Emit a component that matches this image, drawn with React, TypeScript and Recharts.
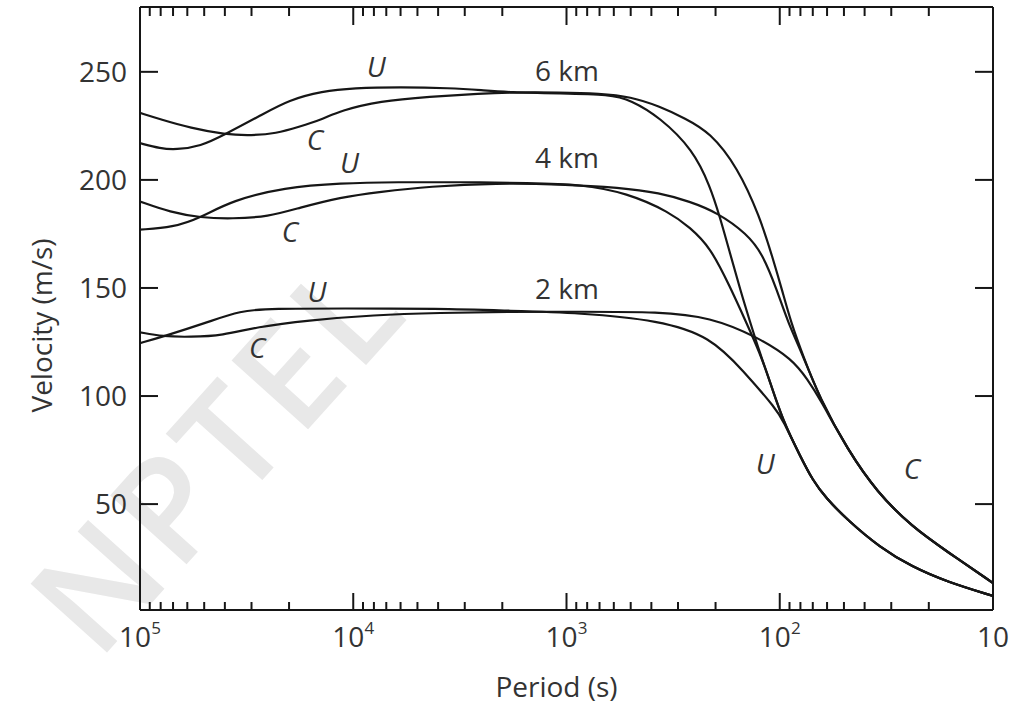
import { LineChart, Line, XAxis, YAxis, ReferenceDot } from "recharts";

const FONT = "'Open Sans', 'Noto Sans', sans-serif";
const INK = "#161616";
const TEXT = "#333333";

// tick values
const majorPeriods = [100000, 10000, 1000, 100, 10];
const minorPeriods = [
  90000, 80000, 70000, 60000, 50000, 40000, 30000, 20000,
  9000, 8000, 7000, 6000, 5000, 4000, 3000, 2000,
  900, 800, 700, 600, 500, 400, 300, 200,
  90, 80, 70, 60, 50, 40, 30, 20,
];
const periodTicks = [...majorPeriods, ...minorPeriods];
const velocityTicks = [50, 100, 150, 200, 250];

// [period (s), velocity (m/s)]
const groupTail = [
  [80, 72], [70, 61], [61, 53], [48, 42.5], [34, 30], [24, 21], [16.4, 14], [10, 7.5],
];
const phaseTail = [
  [48, 75], [35, 55.5], [24, 39.5], [16.4, 28], [10, 13.5],
];

const u6 = [
  [100000, 217], [80000, 214.5], [68000, 214], [52000, 215.5], [40000, 221],
  [27000, 230], [20000, 237], [14000, 241], [10000, 242.5], [6000, 243],
  [3500, 242.5], [2500, 241.5], [1850, 240.5], [1070, 240], [625, 239.5],
  [500, 237], [365, 229], [255, 214], [212, 197], [191, 183], [171, 166],
  [153, 149], [138, 134.5], [124, 120], [111, 106.5], [97, 89],
];
const c6 = [
  [100000, 231], [80000, 228], [58000, 224], [40000, 221], [30000, 220.5],
  [23000, 221.5], [18000, 224.5], [14000, 228], [11500, 232], [7500, 236.5],
  [4400, 238.5], [2500, 240], [1850, 240.5], [1070, 240.5], [700, 240],
  [500, 238.5], [365, 234], [278, 228.5], [212, 222], [158, 206], [124, 183],
  [108, 164], [97.5, 149], [88.5, 134], [78, 119], [65, 99],
];
const u4 = [
  [100000, 177], [70000, 178], [52000, 182.5], [37000, 190.5], [21000, 196.5],
  [11500, 198.5], [6200, 199], [3160, 199], [1480, 198.5], [865, 198],
  [520, 194], [327, 185], [264, 178], [212, 169], [171, 150.5], [145, 135],
  [124, 120], [111, 106.5], [97, 89],
];
const c4 = [
  [100000, 190], [72000, 185], [52000, 182.5], [37000, 182], [25000, 183],
  [18000, 187], [11500, 192], [7500, 194.5], [4400, 197], [2120, 198.5],
  [1070, 198], [561, 196.5], [365, 194], [264, 190], [197, 185], [142, 175],
  [120, 165.5], [103, 149], [91.5, 134], [78, 119], [65, 99],
];
const u2 = [
  [100000, 124.5], [78000, 127.5], [48500, 134], [34000, 139.5], [23800, 140.5],
  [11500, 140.5], [3920, 140.5], [1900, 139.5], [865, 138.5], [365, 135],
  [212, 127.5], [149, 112], [103, 93.5], [97, 89],
];
const c2 = [
  [100000, 129.5], [78000, 127.5], [58000, 127.3], [41000, 128], [28300, 132],
  [16500, 135], [8000, 137.5], [3920, 138.5], [1900, 139], [865, 139],
  [365, 139], [212, 136.5], [128, 127.5], [87, 117], [74, 107.5], [65, 99],
];

const curves = [
  { name: "u6", points: [...u6, ...groupTail] },
  { name: "c6", points: [...c6, ...phaseTail] },
  { name: "u4", points: [...u4, ...groupTail] },
  { name: "c4", points: [...c4, ...phaseTail] },
  { name: "u2", points: [...u2, ...groupTail] },
  { name: "c2", points: [...c2, ...phaseTail] },
];

const curveLabels = [
  { text: "U", period: 7800, v: 252.7, italic: true },
  { text: "6 km", period: 995, v: 251, italic: false },
  { text: "C", period: 15100, v: 219, italic: true },
  { text: "U", period: 10400, v: 208.3, italic: true },
  { text: "4 km", period: 995, v: 210.6, italic: false },
  { text: "C", period: 19800, v: 176.4, italic: true },
  { text: "U", period: 14800, v: 148.6, italic: true },
  { text: "2 km", period: 995, v: 150, italic: false },
  { text: "C", period: 28200, v: 122.7, italic: true },
  { text: "U", period: 117, v: 69, italic: true },
  { text: "C", period: 24, v: 66.7, italic: true },
];

const isMajor = (v: number) => majorPeriods.includes(v);

function BottomTick(props: any) {
  const { x, y, payload } = props;
  const major = isMajor(payload.value);
  const exp = Math.round(Math.log10(payload.value));
  return (
    <g>
      <line x1={x} y1={y} x2={x} y2={y - (major ? 17 : 8)} stroke={INK} strokeWidth={2} />
      {major && (
        <text x={x} y={y + 37} textAnchor="middle" fontSize={28} fill={TEXT} fontFamily={FONT}>
          10
          {exp > 1 && (
            <tspan dy={-13} fontSize={17}>
              {exp}
            </tspan>
          )}
        </text>
      )}
    </g>
  );
}

function TopTick(props: any) {
  const { x, y, payload } = props;
  const major = isMajor(payload.value);
  return <line x1={x} y1={y} x2={x} y2={y + (major ? 18 : 9)} stroke={INK} strokeWidth={2} />;
}

function LeftTick(props: any) {
  const { x, y, payload } = props;
  return (
    <g>
      <line x1={x} y1={y} x2={x + 18} y2={y} stroke={INK} strokeWidth={2} />
      <text x={x - 13} y={y + 10} textAnchor="end" fontSize={28} fill={TEXT} fontFamily={FONT}>
        {payload.value}
      </text>
    </g>
  );
}

function RightTick(props: any) {
  const { x, y } = props;
  return <line x1={x} y1={y} x2={x - 18} y2={y} stroke={INK} strokeWidth={2} />;
}

export default function App() {
  return (
    <div style={{ position: "absolute", left: 0, top: 0, width: 1017, height: 706, background: "#fff", overflow: "hidden" }}>
      <div
        style={{
          position: "absolute",
          left: 214,
          top: 450,
          transform: "translate(-50%, -50%) rotate(-48deg)",
          fontSize: 144,
          fontWeight: 600,
          letterSpacing: 6,
          lineHeight: 0.75,
          color: "#e8e8e8",
          fontFamily: FONT,
          whiteSpace: "nowrap",
        }}
      >
        NPTEL
      </div>
      <div style={{ position: "absolute", left: 0, top: 0 }}>
        <LineChart width={1017} height={706} margin={{ top: 0, right: 0, bottom: 36, left: 80 }}>
          <XAxis
            dataKey="period"
            type="number"
            scale="log"
            domain={[10, 100000]}
            reversed
            allowDataOverflow
            ticks={periodTicks}
            interval={0}
            height={60}
            tickSize={0}
            tickMargin={0}
            tickLine={false}
            axisLine={{ stroke: INK, strokeWidth: 2 }}
            tick={BottomTick}
            label={(p: any) => {
              const vb = p.viewBox;
              return (
                <text x={vb.x + vb.width / 2 - 10} y={vb.y + 87} textAnchor="middle" fontSize={28} fill={TEXT} fontFamily={FONT}>
                  Period (s)
                </text>
              );
            }}
          />
          <XAxis
            xAxisId="top"
            orientation="top"
            dataKey="period"
            type="number"
            scale="log"
            domain={[10, 100000]}
            reversed
            allowDataOverflow
            ticks={periodTicks}
            interval={0}
            height={7}
            tickSize={0}
            tickMargin={0}
            tickLine={false}
            axisLine={{ stroke: INK, strokeWidth: 2 }}
            tick={TopTick}
          />
          <YAxis
            type="number"
            domain={[1, 280]}
            allowDataOverflow
            ticks={velocityTicks}
            interval={0}
            width={60}
            tickSize={0}
            tickMargin={0}
            tickLine={false}
            axisLine={{ stroke: INK, strokeWidth: 2 }}
            tick={LeftTick}
            label={(p: any) => {
              const vb = p.viewBox;
              const lx = vb.x - 28;
              const ly = vb.y + vb.height / 2 + 17;
              return (
                <text x={lx} y={ly} transform={`rotate(-90 ${lx} ${ly})`} textAnchor="middle" fontSize={28} fill={TEXT} fontFamily={FONT}>
                  Velocity (m/s)
                </text>
              );
            }}
          />
          <YAxis
            yAxisId="right"
            orientation="right"
            type="number"
            domain={[1, 280]}
            allowDataOverflow
            ticks={velocityTicks}
            interval={0}
            width={24}
            tickSize={0}
            tickMargin={0}
            tickLine={false}
            axisLine={{ stroke: INK, strokeWidth: 2 }}
            tick={RightTick}
          />
          {curves.map((c) => (
            <Line
              key={c.name}
              data={c.points.map(([period, v]) => ({ period, v }))}
              dataKey="v"
              type="basis"
              stroke={INK}
              strokeWidth={2.2}
              dot={false}
              activeDot={false}
              isAnimationActive={false}
            />
          ))}
          {curveLabels.map((l, i) => (
            <ReferenceDot
              key={i}
              x={l.period}
              y={l.v}
              r={1}
              ifOverflow="visible"
              shape={(p: any) => (
                <text
                  x={p.cx}
                  y={p.cy}
                  textAnchor="middle"
                  dominantBaseline="central"
                  fontSize={28}
                  fontStyle={l.italic ? "italic" : "normal"}
                  fill={TEXT}
                  fontFamily={FONT}
                >
                  {l.text}
                </text>
              )}
            />
          ))}
        </LineChart>
      </div>
    </div>
  );
}
